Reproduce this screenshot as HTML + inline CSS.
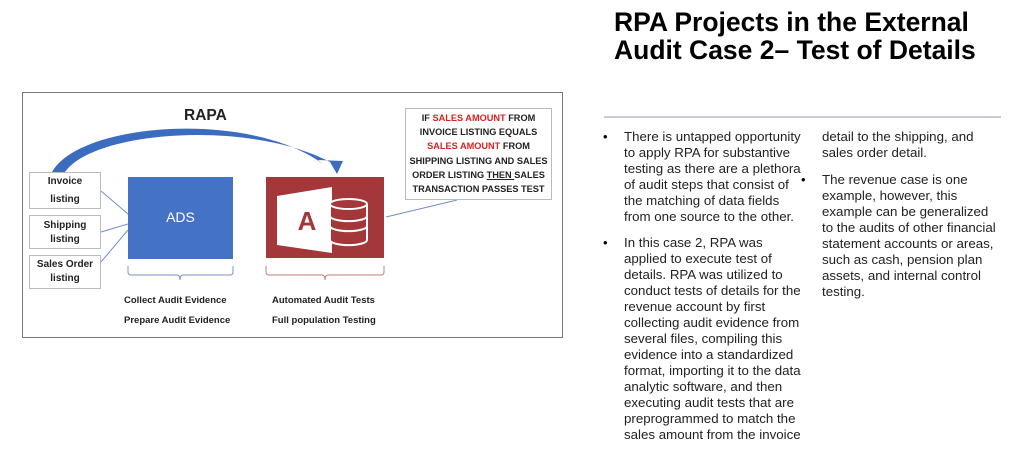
<!DOCTYPE html>
<html><head><meta charset="utf-8"><style>
body{margin:0;width:1024px;height:461px;background:#fff;position:relative;overflow:hidden;font-family:"Liberation Sans",Arial,sans-serif}
.a{position:absolute}
.t{font-weight:bold;font-size:26.5px;line-height:28px;color:#000;left:614px;top:8px;white-space:nowrap}
.col{font-size:13.3px;line-height:16px;color:#222;white-space:nowrap}
.b{font-size:13px}
.d{font-family:"Liberation Sans",sans-serif;font-weight:bold;color:#222}
</style></head><body>
<div class="a t">RPA Projects in the External<br>Audit Case 2– Test of Details</div>
<div class="a" style="left:604px;top:116px;width:397px;height:2px;background:#c8cad8"></div>

<div class="a b" style="left:603px;top:129px">•</div>
<div class="a col" style="left:624px;top:129px">There is untapped opportunity<br>to apply RPA for substantive<br>testing as there are a plethora<br>of audit steps that consist of<br>the matching of data fields<br>from one source to the other.</div>
<div class="a b" style="left:603px;top:235px">•</div>
<div class="a col" style="left:624px;top:235px">In this case 2, RPA was<br>applied to execute test of<br>details. RPA was utilized to<br>conduct tests of details for the<br>revenue account by first<br>collecting audit evidence from<br>several files, compiling this<br>evidence into a standardized<br>format, importing it to the data<br>analytic software, and then<br>executing audit tests that are<br>preprogrammed to match the<br>sales amount from the invoice</div>
<div class="a col" style="left:822px;top:129px">detail to the shipping, and<br>sales order detail.</div>
<div class="a b" style="left:801px;top:172px">•</div>
<div class="a col" style="left:822px;top:172px">The revenue case is one<br>example, however, this<br>example can be generalized<br>to the audits of other financial<br>statement accounts or areas,<br>such as cash, pension plan<br>assets, and internal control<br>testing.</div>

<div class="a" style="left:22px;top:92px;width:541px;height:246px;border:1px solid #777;box-sizing:border-box"></div>
<svg class="a" style="left:0;top:0" width="600" height="461">
<path d="M52 172 C 80 122, 250 110, 323 164 L 318 160 L 343 161 L 337 174 L 330 162 C 250 120, 95 130, 65 172 Z" fill="#3c6cc0"/>
<line x1="101" y1="191" x2="128" y2="214" stroke="#6f8fc8"/>
<line x1="101" y1="232" x2="128" y2="224" stroke="#6f8fc8"/>
<line x1="101" y1="262" x2="128" y2="230" stroke="#6f8fc8"/>
<line x1="457" y1="200" x2="386" y2="217" stroke="#6f8fc8"/>
<rect x="128" y="177" width="105" height="82" fill="#4472c4"/>
<rect x="266" y="177" width="118" height="81" fill="#a4373a"/>
<polygon points="277,196 332,187 332,253 277,245" fill="#fff"/>
<text x="307" y="230" font-family="Liberation Sans" font-weight="bold" font-size="26" fill="#a4373a" text-anchor="middle">A</text>
<g fill="#a4373a" stroke="#fff" stroke-width="2">
<path d="M330 224 v16 a18 5 0 0 0 37 0 v-16"/>
<path d="M330 214 v12 a18 5 0 0 0 37 0 v-12"/>
<path d="M330 204 v12 a18 5 0 0 0 37 0 v-12"/>
<ellipse cx="348.5" cy="204" rx="18.5" ry="5"/>
</g>
<path d="M128 266 v6 q0 3 3 3 h46 q3 0 3 5 q0-5 3-5 h47 q3 0 3-3 v-6" fill="none" stroke="#7a90c8"/>
<path d="M266 266 v6 q0 3 3 3 h53 q3 0 3 5 q0-5 3-5 h53 q3 0 3-3 v-6" fill="none" stroke="#c87a7a"/>
</svg>
<div class="a d" style="left:184px;top:107px;font-size:15.5px">RAPA</div>
<div class="a d" style="left:29px;top:172px;width:72px;height:37px;border:1px solid #bbb;box-sizing:border-box;font-size:10px;text-align:center;line-height:18px">Invoice<br>listing</div>
<div class="a d" style="left:29px;top:215px;width:72px;height:34px;border:1px solid #bbb;box-sizing:border-box;font-size:10px;text-align:center;line-height:14px;padding-top:3px">Shipping<br>listing</div>
<div class="a d" style="left:29px;top:255px;width:72px;height:34px;border:1px solid #bbb;box-sizing:border-box;font-size:10px;text-align:center;line-height:14px;padding-top:2px">Sales Order<br>listing</div>
<div class="a" style="left:128px;top:209px;width:105px;text-align:center;color:#fff;font-size:14px">ADS</div>
<div class="a d" style="left:405px;top:108px;width:147px;height:92px;border:1px solid #bbb;box-sizing:border-box;font-size:9.2px;text-align:center;line-height:14.2px;padding-top:2px;white-space:nowrap">IF <span style="color:#e02020">SALES AMOUNT</span> FROM<br>INVOICE LISTING EQUALS<br><span style="color:#e02020">SALES AMOUNT</span> FROM<br>SHIPPING LISTING AND SALES<br>ORDER LISTING <u>THEN </u>SALES<br>TRANSACTION PASSES TEST</div>
<div class="a d" style="left:124px;top:291px;font-size:9.5px;line-height:20px">Collect Audit Evidence<br>Prepare Audit Evidence</div>
<div class="a d" style="left:272px;top:291px;font-size:9.5px;line-height:20px">Automated Audit Tests<br>Full population Testing</div>
</body></html>
